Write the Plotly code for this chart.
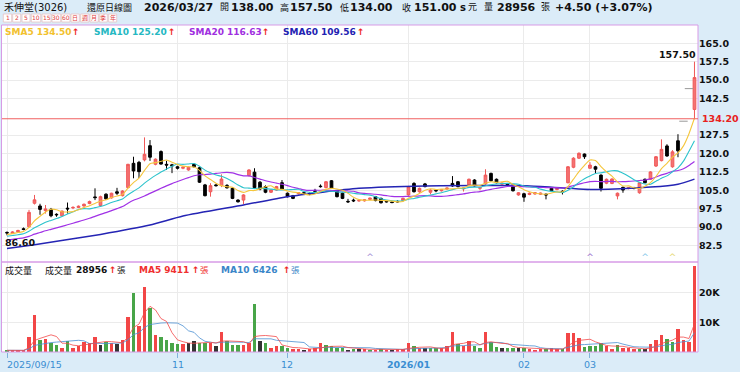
import numpy as np
import pandas as pd
import plotly.graph_objects as go

W, H = 740, 372

# ---------------- data ----------------
opens = [87.8, 87.4, 88.0, 89.3, 90.1, 99.7, 98.6, 96.7, 97.2, 95.2,
         94.6, 97.7, 97.8, 98.0, 98.6, 99.6, 102.3, 98.8, 103.4, 101.9,
         104.4, 102.8, 106.1, 116.0, 116.4, 117.4, 123.2, 115.6, 120.8, 115.6,
         115.4, 114.6, 114.0, 113.3, 115.6, 114.2, 107.2, 104.4, 107.2, 106.9,
         107.0, 105.8, 101.0, 101.0, 111.0, 112.4, 108.3, 106.5, 104.2, 105.1,
         108.1, 103.8, 102.8, 103.6, 104.0, 103.7, 104.8, 106.7, 106.1, 108.9,
         104.7, 103.8, 100.5, 101.0, 100.7, 100.7, 101.3, 102.4, 101.7, 100.5,
         100.2, 100.5, 100.8, 103.1, 107.8, 104.4, 107.6, 104.2, 105.0, 104.8,
         105.5, 107.8, 108.5, 105.6, 107.2, 109.2, 105.8, 107.6, 111.9, 109.5,
         107.5, 107.7, 107.2, 103.1, 103.6, 103.3, 103.5, 103.4, 103.4, 105.8,
         105.3, 104.6, 108.1, 114.4, 118.1, 119.8, 114.0, 114.6, 111.2, 107.9,
         107.8, 102.7, 106.2, 105.7, 106.1, 104.0, 109.5, 109.5, 114.9, 117.1,
         123.1, 114.6, 125.2, 133.2, 146.5, 138.0]
highs = [88.2, 88.3, 88.9, 89.8, 97.0, 103.1, 99.5, 99.0, 97.8, 95.6,
         96.8, 100.0, 98.5, 98.8, 99.6, 100.8, 105.8, 102.8, 103.8, 104.0,
         106.0, 105.0, 115.8, 118.7, 117.0, 126.6, 125.5, 118.0, 121.3, 117.0,
         115.8, 115.0, 114.8, 114.7, 116.0, 114.5, 107.6, 107.9, 107.6, 111.5,
         107.5, 106.2, 101.3, 103.4, 113.6, 114.0, 108.8, 107.0, 105.4, 106.8,
         109.2, 104.1, 103.1, 104.3, 104.4, 104.1, 105.6, 107.4, 108.8, 109.2,
         105.0, 104.1, 101.5, 101.6, 101.3, 101.3, 102.0, 102.7, 102.0, 100.8,
         100.6, 100.9, 102.0, 106.8, 108.3, 106.1, 108.0, 105.4, 105.4, 105.4,
         106.1, 110.8, 108.8, 106.2, 109.8, 109.5, 106.4, 113.6, 112.2, 109.8,
         108.1, 108.0, 107.5, 104.3, 104.0, 104.1, 104.3, 104.1, 103.7, 106.1,
         106.1, 105.0, 114.9, 118.5, 120.5, 120.0, 116.5, 115.0, 111.5, 109.8,
         109.9, 104.1, 106.5, 106.3, 106.4, 108.4, 109.8, 112.8, 119.0, 125.8,
         123.8, 121.4, 127.9, 133.2, 146.5, 157.5]
lows = [86.6, 87.2, 87.8, 88.7, 89.8, 99.2, 95.0, 95.5, 94.0, 94.2,
        94.4, 95.5, 97.3, 97.7, 98.3, 99.3, 101.0, 98.5, 101.0, 101.6,
        103.1, 102.5, 105.8, 109.9, 110.0, 116.8, 117.0, 115.2, 115.5, 113.3,
        112.0, 113.5, 113.6, 113.0, 114.3, 108.0, 102.5, 102.4, 106.5, 106.3,
        105.7, 101.4, 100.0, 99.3, 110.6, 105.8, 105.0, 103.8, 103.9, 104.8,
        105.2, 102.1, 101.4, 103.3, 103.2, 103.0, 104.2, 106.1, 105.8, 105.5,
        102.1, 101.4, 99.8, 100.2, 100.3, 100.4, 101.0, 100.5, 99.6, 100.0,
        99.7, 100.0, 100.5, 102.8, 104.1, 104.0, 106.2, 103.3, 104.2, 104.5,
        105.2, 106.4, 106.2, 104.5, 106.9, 106.5, 105.0, 107.3, 108.6, 107.8,
        107.2, 107.0, 104.5, 102.8, 100.3, 103.0, 103.2, 103.1, 101.3, 104.5,
        105.0, 103.3, 107.8, 114.0, 117.8, 117.8, 113.8, 112.0, 104.5, 107.5,
        107.5, 101.3, 104.0, 105.4, 105.4, 103.6, 107.8, 109.2, 114.5, 116.8,
        118.7, 114.2, 118.5, 133.2, 146.5, 134.0]
closes = [87.6, 88.0, 88.6, 89.0, 96.0, 101.1, 97.2, 97.4, 94.6, 95.0,
          96.5, 97.4, 98.0, 98.5, 99.3, 100.4, 102.0, 102.4, 101.5, 103.8,
          103.8, 104.7, 115.6, 112.9, 112.6, 119.7, 118.5, 117.7, 115.7, 115.3,
          115.0, 114.0, 114.4, 114.4, 114.6, 108.3, 102.8, 106.9, 106.9, 109.6,
          106.0, 101.7, 100.3, 103.1, 113.3, 106.1, 105.5, 104.2, 105.1, 106.5,
          105.5, 102.4, 101.7, 104.0, 103.8, 103.5, 104.6, 106.5, 108.5, 105.8,
          102.4, 101.7, 100.3, 100.7, 100.8, 101.1, 101.8, 100.8, 99.9, 100.3,
          100.0, 100.3, 101.7, 106.5, 104.4, 105.8, 106.5, 105.1, 104.8, 105.2,
          105.9, 106.8, 106.5, 105.9, 109.5, 106.8, 106.1, 111.2, 108.9, 108.1,
          107.9, 107.3, 104.8, 104.0, 102.2, 103.8, 104.0, 103.8, 103.1, 104.8,
          105.8, 104.4, 114.6, 118.1, 120.1, 118.7, 115.3, 113.6, 105.8, 109.5,
          109.6, 103.8, 105.1, 106.0, 105.8, 108.1, 108.1, 112.5, 118.7, 121.7,
          119.0, 120.7, 121.1, 133.2, 146.5, 151.0]
# closes before the first visible day (for moving averages)
prior_closes = [83.0, 82.5, 83.0, 84.0, 83.5, 84.0, 83.0, 82.5, 83.0, 84.0,
                85.0, 85.5, 85.0, 86.0, 86.5, 86.0, 86.5, 87.0, 87.5]
# SMA60 at some days
sma60_days = [0, 5, 17, 26, 32, 43, 51, 64, 76, 95, 107, 117, 122, 125]
sma60_vals = [81.2, 82.8, 87.0, 90.8, 94.5, 99.0, 102.4, 105.8, 106.8, 106.8,
              105.3, 106.3, 107.5, 109.56]

# volume in thousand lots, and colour code (r up, g down, k flat)
volumes = [0.4, 0.5, 0.7, 0.5, 5.2, 12.5, 4.0, 4.3, 2.9, 2.4,
           1.3, 3.6, 1.3, 1.9, 3.4, 3.2, 5.2, 2.4, 3.4, 3.2,
           2.6, 4.0, 11.8, 19.7, 8.8, 21.9, 14.7, 5.7, 5.2, 4.0,
           2.9, 2.6, 2.6, 2.9, 3.7, 3.2, 3.2, 3.2, 1.9, 6.8,
           3.6, 2.4, 2.4, 2.2, 2.9, 16.0, 3.8, 2.9, 1.3, 1.9,
           1.9, 1.3, 1.1, 1.0, 0.8, 1.0, 1.5, 2.9, 2.2, 1.9,
           1.5, 1.3, 0.6, 1.0, 1.1, 1.1, 0.7, 0.6, 1.1, 0.7,
           0.7, 0.9, 0.9, 2.9, 2.1, 1.2, 1.2, 1.2, 1.2, 1.2,
           2.1, 6.6, 2.6, 2.1, 3.7, 2.1, 1.5, 6.6, 3.3, 1.8,
           1.2, 1.5, 1.5, 1.5, 1.2, 1.0, 0.7, 0.9, 0.9, 1.2,
           1.0, 0.9, 6.5, 6.5, 4.6, 1.8, 2.1, 2.1, 2.9, 2.1,
           0.9, 2.4, 1.2, 1.2, 1.0, 1.0, 0.9, 2.6, 4.0, 5.7,
           4.4, 3.3, 7.7, 4.0, 3.3, 28.956]
vol_dir = list("grrrrrgrgg" "rgrrrrrkgr" "krrgrrgrgg" "ggrkkggrkr"
               "gggrrgkgrr" "ggrrkrrrgg" "ggkgkrgrgr" "krrrgrkggr"
               "rrgrrggrgg" "kggkgrrrgr" "rgrrrggggr" "rgrrrgkrrr" "ggrrrr")
prior_volumes = [0.6, 0.5, 0.7, 0.6, 0.5, 0.6, 0.7, 0.5, 0.6]

tick_days = [0, 31, 51, 73, 94, 106]
tick_labels = ["2025/09/15", "11", "12", "2026/01", "02", "03"]
price_ticks = [82.5, 90.0, 97.5, 105.0, 112.5, 120.0, 127.5, 142.5, 150.0, 157.5, 165.0]
ref_line = 134.20
event_days = [66, 106, 116, 121]
event_colors = ["#a48bd6", "#9c6fd0", "#86c8ea", "#e6d873"]
event_level = 77.3

# ---------------- computations ----------------
n = len(closes)
idx = np.arange(n)
O, Hh, L, C = map(np.array, (opens, highs, lows, closes))
allc = pd.Series(prior_closes + closes)
k = len(prior_closes)
sma5 = allc.rolling(5).mean().iloc[k:].to_numpy()
sma10 = allc.rolling(10).mean().iloc[k:].to_numpy()
sma20 = allc.rolling(20).mean().iloc[k:].to_numpy()
allv = pd.Series(prior_volumes + volumes) * 1000
kv = len(prior_volumes)
vma5 = allv.rolling(5).mean().iloc[kv:].to_numpy()
vma10 = allv.rolling(10).mean().iloc[kv:].to_numpy()
vol = np.array(volumes) * 1000
vcol_map = {"r": "#f24646", "g": "#48a548", "k": "#333333"}
vcols = [vcol_map[c] for c in vol_dir[:n]]


def px(x):
    return x / W


def py(y):
    return 1 - y / H


PL, PR = 2, 698
PT, PB = 25, 262
VT, VB = 262, 352
xr = [-0.91, n - 1 + 0.64]
pr = [75.73, 172.47]
vr = [0, 30300]

BG = "#dbecf8"
FONT = "DejaVu Sans, Noto Sans CJK TC"

fig = go.Figure()
mask = Hh != L
fig.add_trace(go.Candlestick(
    x=idx[mask], open=O[mask], high=Hh[mask], low=L[mask], close=C[mask],
    increasing=dict(line=dict(color="#f05858", width=1), fillcolor="#f47373"),
    decreasing=dict(line=dict(color="#000000", width=1), fillcolor="#000000"),
    whiskerwidth=0, xaxis="x", yaxis="y", showlegend=False, hoverinfo="skip"))
fig.add_trace(go.Scatter(
    x=idx[~mask], y=C[~mask], mode="markers", xaxis="x", yaxis="y",
    marker=dict(symbol="line-ew", size=6, line=dict(color="#999999", width=1)),
    showlegend=False, hoverinfo="skip"))
for y, col, w in [(sma60_vals, "#2424b4", 1.5), (sma20, "#a031e6", 1.2),
                  (sma10, "#2cc3cc", 1.1), (sma5, "#f5c63c", 1.1)]:
    xs = sma60_days if y is sma60_vals else idx
    fig.add_trace(go.Scatter(x=xs, y=y, mode="lines", xaxis="x", yaxis="y",
                             line=dict(color=col, width=w, shape="spline", smoothing=0.6),
                             showlegend=False, hoverinfo="skip"))
fig.add_trace(go.Scatter(
    x=event_days, y=[event_level] * len(event_days), mode="text", text=["^"] * len(event_days),
    textfont=dict(color=event_colors, size=9, family=FONT), xaxis="x", yaxis="y",
    showlegend=False, hoverinfo="skip"))

fig.add_trace(go.Bar(x=idx, y=vol, marker=dict(color=vcols, line=dict(width=0)), width=0.62,
                     xaxis="x2", yaxis="y2", showlegend=False, hoverinfo="skip"))
fig.add_trace(go.Scatter(x=idx, y=vma10, mode="lines", line=dict(color="#4a8fd2", width=0.8),
                         xaxis="x2", yaxis="y2", showlegend=False, hoverinfo="skip"))
fig.add_trace(go.Scatter(x=idx, y=vma5, mode="lines", line=dict(color="#f24a4a", width=0.8),
                         xaxis="x2", yaxis="y2", showlegend=False, hoverinfo="skip"))

axfont = dict(family="DejaVu Sans", size=9.5, color="#111111", weight="bold")
fig.update_layout(
    width=W, height=H, autosize=False, margin=dict(l=0, r=0, t=0, b=0, pad=0),
    paper_bgcolor=BG, plot_bgcolor="white", template="none", bargap=0,
    xaxis=dict(domain=[px(PL), px(PR)], range=xr, anchor="y", showticklabels=False,
               tickvals=tick_days, showgrid=True, gridcolor="#ebebeb", gridwidth=1,
               zeroline=False, rangeslider=dict(visible=False), ticks="", automargin=False,
               showline=False),
    xaxis2=dict(domain=[px(PL), px(PR)], range=xr, anchor="y2", matches="x",
                showticklabels=False, tickvals=tick_days, showgrid=True, gridcolor="#ebebeb",
                ticks="outside", ticklen=5, tickcolor="#7fb2dc", zeroline=False,
                automargin=False, showline=False),
    yaxis=dict(domain=[py(PB), py(PT)], range=pr, side="right", tickvals=price_ticks,
               ticktext=[f"{v:.1f}" for v in price_ticks], tickfont=axfont, showgrid=True,
               gridcolor="#ebebeb", zeroline=False, ticks="", automargin=False),
    yaxis2=dict(domain=[py(VB), py(VT)], range=vr, side="right", tickvals=[10000, 20000],
                ticktext=["10K", "20K"], tickfont=axfont, showgrid=True, gridcolor="#ebebeb",
                zeroline=False, ticks="", automargin=False),
)

shapes = [
    dict(type="rect", xref="paper", yref="paper", x0=px(1.5), x1=px(PR), y0=py(PB), y1=py(PT),
         line=dict(color="#d79be6", width=1)),
    dict(type="rect", xref="paper", yref="paper", x0=px(1.5), x1=px(PR), y0=py(VB), y1=py(VT),
         line=dict(color="#d79be6", width=1)),
    dict(type="line", xref="paper", yref="y", x0=px(PL), x1=px(PR), y0=ref_line, y1=ref_line,
         line=dict(color="#f06060", width=1.2)),
]
ann = []


def txt(x, y, s, size=10, color="#111111", bold=False, anchor="left", family=FONT):
    ann.append(dict(xref="paper", yref="paper", x=px(x), y=py(y), text=s, showarrow=False,
                    xanchor=anchor, yanchor="middle",
                    font=dict(family=family, size=size, color=color,
                              weight="bold" if bold else "normal")))


# header
txt(2, 7.5, "禾伸堂(3026)", 10)
txt(85, 7.5, "還原日線圖", 9)
txt(142, 7.5, "2026/03/27", 11, bold=True)
txt(218, 7.5, "開", 9)
txt(229, 7.5, "138.00", 11, bold=True)
txt(278, 7.5, "高", 9)
txt(288, 7.5, "157.50", 11, bold=True)
txt(338, 7.5, "低", 9)
txt(348, 7.5, "134.00", 11, bold=True)
txt(400, 7.5, "收", 9)
txt(412, 7.5, "151.00", 11, bold=True)
txt(458, 7.5, "s", 10, bold=True)
txt(466, 7.5, "元", 9)
txt(482, 7.5, "量", 9)
txt(495, 7.5, "28956", 11, bold=True)
txt(539, 7.5, "張", 9)
txt(553, 7.5, "+4.50 (+3.07%)", 11, bold=True)

# period buttons
btn_labels = ["1", "2", "5", "10", "15", "30", "60", "日", "週", "月", "季", "年"]
btn_x = [3.3, 12.7, 22, 31.3, 42, 52, 61.7, 71, 80.7, 90, 99.3, 108.7]
btn_w = [8.4, 8, 8, 9.4, 9, 8.7, 8.3, 8.3, 8.3, 8.3, 8, 8]
for lab, bx, bw in zip(btn_labels, btn_x, btn_w):
    shapes.append(dict(type="rect", xref="paper", yref="paper", x0=px(bx), x1=px(bx + bw),
                       y0=py(22), y1=py(14), fillcolor="#ffffff",
                       line=dict(color="#e6c4c4", width=0.8)))
    txt(bx + bw / 2, 18, lab, 6, color="#e03a3a", anchor="center")

# SMA legend
for x, s, col, ax in [(3, "SMA5 134.50", "#f2c12e", 70), (92, "SMA10 125.20", "#25b8c2", 166),
                      (187, "SMA20 116.63", "#a02fe0", 260), (281, "SMA60 109.56", "#2222b2", 355)]:
    txt(x, 31.5, s, 9, color=col, bold=True)
    txt(ax, 31.5, "↑", 9, color="#ee2222", bold=True)

# volume legend
txt(3, 270, "成交量", 9)
txt(43, 270, "成交量", 9)
txt(73.5, 270, "28956", 9, bold=True)
txt(106.5, 270, "↑", 9, color="#ee2222", bold=True)
txt(115, 270, "張", 8.5)
txt(137, 270, "MA5 9411", 9, color="#f03030", bold=True)
txt(189.5, 270, "↑", 9, color="#ee2222", bold=True)
txt(198, 270, "張", 8.5, color="#f03030")
txt(219, 270, "MA10 6426", 9, color="#3a86c8", bold=True)
txt(280.5, 270, "↑", 9, color="#ee2222", bold=True)
txt(289, 270, "張", 8.5, color="#3a86c8")

# red reference label
ann.append(dict(xref="paper", yref="y", x=px(700), y=ref_line, text="134.20", showarrow=False,
                xanchor="left", yanchor="middle",
                font=dict(family="DejaVu Sans", size=9.5, color="#e82020", weight="bold")))
# high / low labels
imax = int(np.argmax(Hh))
imin = int(np.argmin(L))
ann.append(dict(xref="x", yref="y", x=imax, y=Hh[imax], text=f"{Hh[imax]:.2f}", showarrow=False,
                xanchor="right", yanchor="bottom", xshift=4, yshift=0,
                font=dict(family="DejaVu Sans", size=9.5, color="#111111", weight="bold")))
ann.append(dict(xref="x", yref="y", x=imin, y=L[imin], text=f"{L[imin]:.2f}", showarrow=False,
                xanchor="left", yanchor="top", xshift=-4, yshift=0,
                font=dict(family="DejaVu Sans", size=9.5, color="#111111", weight="bold")))

# date labels
for d, lab in zip(tick_days, tick_labels):
    ann.append(dict(xref="x2", yref="paper", x=d, y=py(364.5), text=lab, showarrow=False,
                    xanchor="left" if d == 0 else "center", yanchor="middle",
                    xshift=-2 if d == 0 else 0,
                    font=dict(family="DejaVu Sans", size=9.5, color="#3a8ed2",
                              weight="bold" if "/" in lab and d != 0 else "normal")))

fig.update_layout(shapes=shapes, annotations=ann)
fig.write_html("out.html")
